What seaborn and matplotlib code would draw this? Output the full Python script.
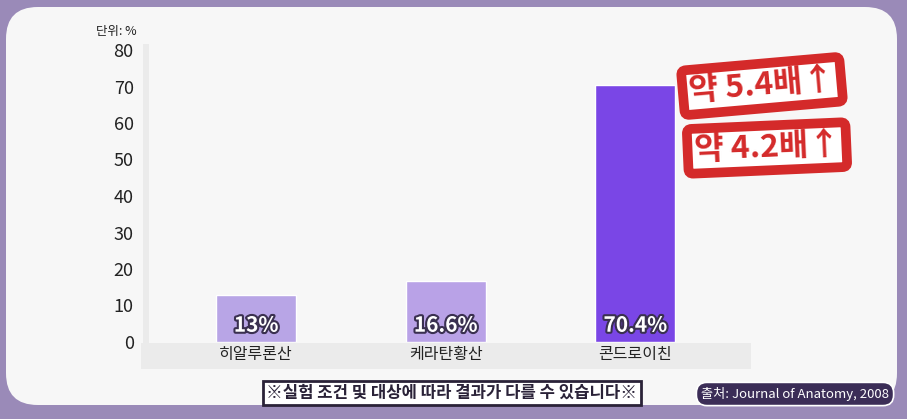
import matplotlib
matplotlib.use("Agg")
import matplotlib.pyplot as plt
import matplotlib.patheffects as pe
from matplotlib.patches import FancyBboxPatch, Rectangle
import pandas as pd
import seaborn as sns

# data
categories = ['히알루론산', '케라탄황산', '콘드로이친']
values = [13, 16.6, 70.4]
value_labels = ['13%', '16.6%', '70.4%']
bar_colors = ['#b8a5e6', '#b9a2e7', '#7a46e6']
y_ticks = [0, 10, 20, 30, 40, 50, 60, 70, 80]
stamps = ['약 5.4배↑', '약 4.2배↑']
unit_text = '단위: %'
note_text = '※실험 조건 및 대상에 따라 결과가 다를 수 있습니다※'
source_text = '출처: Journal of Anatomy, 2008'

sns.set_theme(style="white")
plt.rcParams['font.family'] = ['Noto Sans CJK KR', 'DejaVu Sans']

W, H = 907, 419
fig = plt.figure(figsize=(W / 100, H / 100), dpi=100, facecolor='#9a8ab8')

def px(x0, y0, x1, y1):
    # pixel box (top-left origin) -> figure fraction
    return x0 / W, 1 - y1 / H, (x1 - x0) / W, (y1 - y0) / H

# white rounded panel
bx, by, bw, bh = px(6, 7, 897, 405)
fig.patches.append(FancyBboxPatch((bx, by), bw, bh, boxstyle="round,pad=0,rounding_size=0.035",
                                  transform=fig.transFigure, facecolor='#f7f7f7', edgecolor='none',
                                  mutation_aspect=W / H, zorder=0))

# grey base band and left axis strip
bx, by, bw, bh = px(141, 343, 751, 369)
fig.patches.append(Rectangle((bx, by), bw, bh, transform=fig.transFigure,
                             facecolor='#ebebeb', edgecolor='none', zorder=1))
bx, by, bw, bh = px(143, 44, 149, 343)
fig.patches.append(Rectangle((bx, by), bw, bh, transform=fig.transFigure,
                             facecolor='#ebebeb', edgecolor='none', zorder=1))

l, b, w, h = px(149, 50, 750, 342)
ax = fig.add_axes([l, b, w, h])
ax.set_zorder(2)
ax.set_facecolor('none')

df = pd.DataFrame({'category': categories, 'value': values})
sns.barplot(data=df, x='category', y='value', hue='category', palette=bar_colors,
            legend=False, width=0.42, ax=ax, saturation=1, zorder=3)

ax.set_xlim(-0.565, 2.605)
ax.set_ylim(0, 80)
ax.set_yticks(y_ticks)
ax.set_yticklabels([str(t) for t in y_ticks], fontsize=13, color='#222222')
ax.tick_params(axis='y', length=0, pad=11)
ax.tick_params(axis='x', length=0, pad=3, labelsize=11.5, labelcolor='#222222')
ax.set_xlabel('')
ax.set_ylabel('')
for s in ax.spines.values():
    s.set_visible(False)

outline = [pe.withStroke(linewidth=3, foreground='#3a3050')]
for i, (v, lab) in enumerate(zip(values, value_labels)):
    ax.text(i, 4.6, lab, ha='center', va='center', fontsize=15, fontweight='bold',
            color='white', path_effects=outline, zorder=5)

fig.text(137 / W, 1 - 31 / H, unit_text, ha='right', va='center', fontsize=9, color='#222222')

# red stamps
for txt, (cx, cy), rot in zip(stamps, [(762, 86), (767, 148)], [5, 2.5]):
    fig.text(cx / W, 1 - cy / H, txt, ha='center', va='center', fontsize=23, fontweight='black',
             color='#d42a2a', rotation=rot, zorder=6,
             bbox=dict(boxstyle='round,pad=0.2,rounding_size=0.15', facecolor='white',
                       edgecolor='#d42a2a', linewidth=7))

# footnote box
fig.text(452 / W, 1 - 393 / H, note_text, ha='center', va='center', fontsize=12, fontweight='bold',
         color='#2a2238', zorder=6,
         bbox=dict(boxstyle='square,pad=0.2', facecolor='white', edgecolor='#2a2238', linewidth=2))

# source pill
fig.text(795 / W, 1 - 394 / H, source_text, ha='center', va='center', fontsize=9.5,
         color='white', zorder=6,
         bbox=dict(boxstyle='round,pad=0.35,rounding_size=0.8', facecolor='#3b2d57',
                   edgecolor='white', linewidth=1.2))

fig.savefig('out.png', dpi=100, facecolor=fig.get_facecolor())
